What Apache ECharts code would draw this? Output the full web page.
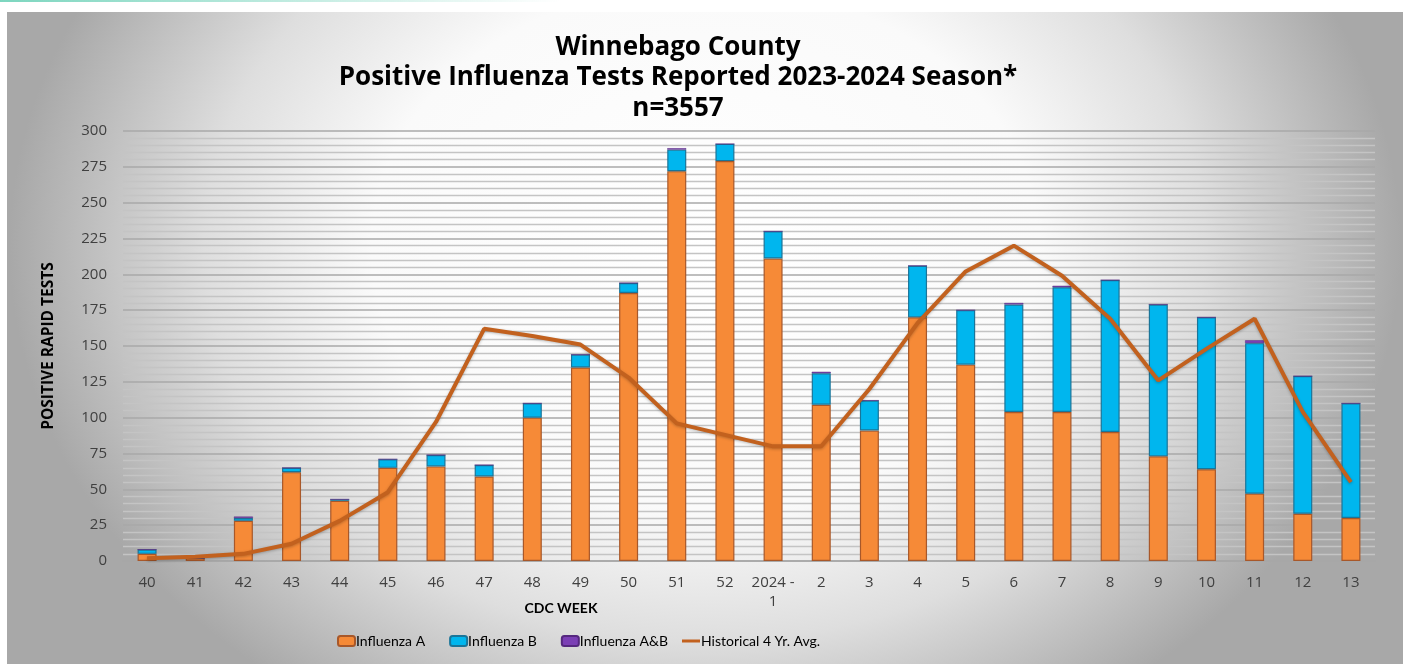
<!DOCTYPE html>
<html>
<head>
<meta charset="utf-8">
<title>Winnebago County Influenza</title>
<script src="https://cdn.jsdelivr.net/npm/echarts@6/dist/echarts.min.js"></script>
<style>
  html, body { margin: 0; padding: 0; background: #fff; }
  #chart { width: 1416px; height: 664px; }
</style>
</head>
<body>
<div id="chart"></div>
<script>
var weeks = ['40', '41', '42', '43', '44', '45', '46', '47', '48', '49', '50', '51', '52', '2024 -\n1',
  '2', '3', '4', '5', '6', '7', '8', '9', '10', '11', '12', '13']
var fluA = [5, 2, 28, 62, 42, 65, 66, 59, 100, 135, 187, 272, 279, 211, 109, 91, 170, 137, 104, 104, 90, 73, 64, 47, 33, 30]
var fluB = [3, 0, 2, 3, 1, 6, 8, 8, 10, 9, 7, 15, 12, 19, 22, 21, 36, 38, 75, 87, 106, 106, 106, 105, 96, 80]
var fluAB = [0, 0, 1, 0, 0, 0, 0, 0, 0, 0, 0, 1, 0, 0, 1, 0, 0, 0, 1, 1, 0, 0, 0, 2, 0, 0]
var histAvg = [2, 3, 5, 12, 28, 48, 97, 162, 157, 151, 128, 96, 88, 80, 80, 120, 166, 202, 220, 199, 169, 126, 148, 169, 104, 55]
var yTicks = { min: 0, max: 300, interval: 25 }

var font = '"Open Sans", sans-serif'
var narrow = 'Lato, "Open Sans", sans-serif'
var chart = echarts.init(document.getElementById('chart'))

chart.setOption({
  animation: false,
  graphic: [
    {
      type: 'rect',
      x: 0, y: 0,
      shape: { width: 560, height: 2 },
      style: {
        fill: new echarts.graphic.LinearGradient(0, 0, 1, 0, [
          { offset: 0, color: '#7dd6bf' },
          { offset: 1, color: 'rgba(125,214,191,0)' }
        ])
      },
      silent: true, z: -10
    },
    {
      // elliptical background: a radial gradient on a rect stretched sideways
      type: 'rect',
      x: 7, y: 12,
      scaleX: 1.27,
      shape: { width: 1396 / 1.27, height: 652 },
      style: {
        fill: new echarts.graphic.RadialGradient(0.5, 0.36, 0.84, [
          { offset: 0, color: '#ffffff' },
          { offset: 0.48, color: '#fafafa' },
          { offset: 0.72, color: '#dedede' },
          { offset: 1, color: '#a8a8a8' }
        ])
      },
      silent: true, z: -10
    },
    {
      type: 'text',
      x: 561, y: 608,
      style: {
        text: 'CDC WEEK',
        font: 'bold 14px ' + narrow,
        fill: '#000',
        align: 'center',
        verticalAlign: 'middle'
      }
    }
  ],
  title: {
    text: 'Winnebago County\nPositive Influenza Tests Reported 2023-2024 Season*\nn=3557',
    left: 673,
    textAlign: 'center',
    top: 27,
    textStyle: {
      fontFamily: font,
      fontWeight: 'bold',
      fontSize: 26,
      lineHeight: 30.5,
      color: '#000'
    }
  },
  legend: [
    {
      left: 337,
      top: 634,
      padding: 0,
      itemGap: 24,
      itemWidth: 17,
      itemHeight: 10,
      textStyle: { fontFamily: narrow, fontSize: 14, color: '#000', padding: [0, 0, 0, -4] },
      data: ['Influenza A', 'Influenza B', 'Influenza A&B']
    },
    {
      left: 682,
      top: 634,
      padding: 0,
      itemWidth: 18,
      itemHeight: 3,
      icon: 'rect',
      textStyle: { fontFamily: narrow, fontSize: 14, color: '#000', padding: [0, 0, 0, -4] },
      data: ['Historical 4 Yr. Avg.']
    }
  ],
  grid: { left: 123, right: 41, top: 131, bottom: 103 },
  xAxis: {
    type: 'category',
    data: weeks,
    axisLine: { lineStyle: { color: '#a6a6a6', width: 1.5 } },
    axisTick: { show: false },
    axisLabel: {
      color: '#404040',
      fontFamily: font,
      fontSize: 15,
      lineHeight: 19,
      margin: 12,
      interval: 0
    }
  },
  yAxis: {
    type: 'value',
    min: yTicks.min,
    max: yTicks.max,
    interval: yTicks.interval,
    name: 'POSITIVE RAPID TESTS',
    nameLocation: 'middle',
    nameRotate: 90,
    nameGap: 66,
    nameTextStyle: { fontFamily: font, fontWeight: 'bold', fontSize: 15.5, color: '#000' },
    axisLine: { show: false },
    axisTick: { show: false },
    axisLabel: { color: '#404040', fontFamily: font, fontSize: 15, margin: 16 },
    splitLine: { lineStyle: { color: '#a8a8a8', width: 1.5 } },
    minorTick: { show: false, splitNumber: 5 },
    minorSplitLine: { show: true, lineStyle: { color: '#c4c4c4', width: 1.3 } }
  },
  series: [
    {
      name: 'Influenza A',
      type: 'bar',
      stack: 'total',
      barWidth: 19,
      itemStyle: {
        color: '#f68a37',
        borderColor: '#a8582a',
        borderWidth: 1.2
      },
      data: fluA
    },
    {
      name: 'Influenza B',
      type: 'bar',
      stack: 'total',
      barWidth: 19,
      itemStyle: {
        color: '#00b6ee',
        borderColor: '#1a7599',
        borderWidth: 1.2
      },
      data: fluB
    },
    {
      name: 'Influenza A&B',
      type: 'bar',
      stack: 'total',
      barWidth: 19,
      itemStyle: {
        color: '#7b3fb5',
        borderColor: '#55287f',
        borderWidth: 0.5
      },
      data: fluAB
    },
    {
      name: 'Historical 4 Yr. Avg.',
      type: 'line',
      symbol: 'none',
      z: 5,
      lineStyle: {
        color: '#c2611e',
        width: 4,
        shadowColor: 'rgba(0,0,0,0.25)',
        shadowBlur: 3,
        shadowOffsetY: 1
      },
      itemStyle: { color: '#c2611e' },
      data: histAvg
    }
  ]
})
</script>
</body>
</html>
